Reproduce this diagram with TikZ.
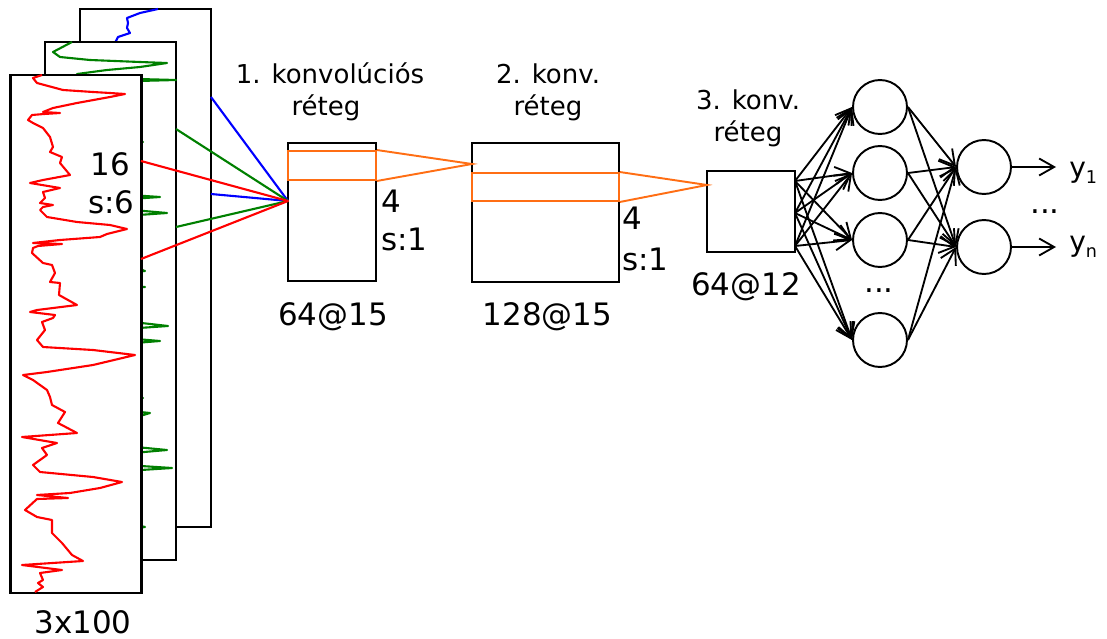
\documentclass[tikz,border=0pt]{standalone}
\usepackage{fontspec}
\setmainfont{DejaVu Sans}
\usetikzlibrary{arrows.meta}

\definecolor{convorange}{RGB}{255,110,20}
\definecolor{chgreen}{RGB}{0,128,0}

\begin{document}
\begin{tikzpicture}[x=0.02cm, y=-0.02cm,
  frame/.style={draw, line width=1.6pt, fill=white, minimum width=2.62cm, minimum height=10.36cm, inner sep=0},
  trace/.style={line width=1.2pt, line join=round},
  layer/.style={draw, line width=1.1pt, inner sep=0},
  window/.style={draw=convorange, line width=1.1pt, inner sep=0},
  neuron/.style={draw, circle, line width=1.1pt, minimum size=1.08cm, inner sep=0},
  arr/.style={-{Straight Barb[length=3mm, width=3.4mm]}, line width=1.05pt},
  big/.style={font=\fontsize{17.6}{21}\selectfont, inner sep=0},
  small/.style={font=\fontsize{14.8}{18}\selectfont, inner sep=0},
  outlbl/.style={font=\fontsize{16}{19}\selectfont, inner sep=0}]
\useasboundingbox (0,0) rectangle (1107,639);

% input channels, back to front
\node[frame] (chz) at (145.5,268) {};
\draw[trace, blue] plot coordinates {(158,9) (140,13) (127,18) (128,23) (127,28) (130,33) (118,37) (116,41) (112,46)};

\node[frame] (chy) at (110.5,301) {};
\draw[trace, chgreen] plot coordinates {(72,42) (53,52) (60,57) (90,60) (140,62) (167,63) (140,67) (107,70) (77,74)
  (100,78) (176,80) (100,82) (110,100) (120,140) (143,142) (120,145) (115,190) (100,193) (160,197) (100,201)
  (110,208) (167,213) (110,217) (115,260) (145,271) (115,274) (110,284) (145,287) (110,290) (115,320)
  (168,326) (110,330) (112,337) (160,341) (110,345) (115,395) (143,398) (115,402) (120,410) (150,413)
  (140,416) (120,420) (115,445) (167,450) (110,455) (110,464) (172,468) (110,472) (115,520) (145,527)
  (110,532) (100,558)};

\node[frame] (chx) at (76,334) {};
\draw[trace, red] plot coordinates {(42,75) (33,78) (37,83) (63,90) (93,92) (110,93) (125,94) (110,97) (77,103)
  (53,108) (43,112) (60,113) (44,114) (32,115) (28,120) (33,123) (43,128) (50,137) (53,147) (50,152)
  (62,157) (60,163) (70,175) (43,180) (30,183) (60,188) (43,192) (45,198) (40,203) (53,205) (43,207)
  (40,210) (47,217) (77,222) (110,225) (127,229) (107,234) (100,237) (60,240) (33,243) (62,244) (38,246)
  (33,248) (32,253) (43,263) (52,265) (55,273) (50,282) (60,283) (59,295) (77,305) (37,310) (30,312)
  (55,315) (53,318) (42,322) (45,330) (37,340) (43,347) (93,350) (135,355) (93,365) (47,372) (23,375)
  (33,380) (47,390) (50,397) (52,405) (65,412) (58,423) (77,433) (22,437) (57,443) (42,448) (47,455)
  (33,465) (40,472) (93,477) (122,482) (100,488) (70,493) (37,495) (68,498) (37,499) (25,510) (37,517)
  (52,520) (52,533) (62,543) (72,555) (83,561) (22,565) (62,570) (40,573) (43,580) (38,583) (43,587)
  (35,592)};

\node[big, anchor=base west] (kw) at (90,175) {16};
\node[big, anchor=base west] (ks) at (88,213) {s:6};
\node[big, anchor=base] (insz) at (83,633) {3x100};

% kernel ends on the channels
\coordinate (bz1) at (211,97);
\coordinate (bz2) at (211,194);
\coordinate (by1) at (176,129);
\coordinate (by2) at (176,227);
\coordinate (bx1) at (141,161);
\coordinate (bx2) at (141,259);
\coordinate (k1) at (288,201);

% first conv layer
\node[layer, minimum width=1.76cm, minimum height=2.76cm] (c1) at (332,212) {};
\node[window, minimum width=1.76cm, minimum height=0.58cm] (w1) at (332,165.5) {};
\node[small, anchor=base] (l1a) at (330,83) {1. konvolúciós};
\node[small, anchor=base] (l1b) at (326,115) {réteg};
\node[big, anchor=base west] (k1w) at (381,212) {4};
\node[big, anchor=base west] (k1s) at (381,250) {s:1};
\node[big, anchor=base] (n1) at (333,325) {64@15};

\draw[trace, blue] (bz1) -- (k1) -- (bz2);
\draw[trace, chgreen] (by1) -- (k1) -- (by2);
\draw[trace, red] (bx1) -- (k1) -- (bx2);

% second conv layer
\node[layer, minimum width=2.94cm, minimum height=2.78cm] (c2) at (545.5,212.5) {};
\node[window, minimum width=2.94cm, minimum height=0.56cm] (w2) at (545.5,187) {};
\node[small, anchor=base] (l2a) at (548,83) {2. konv.};
\node[small, anchor=base] (l2b) at (548,115) {réteg};
\node[big, anchor=base west] (k2w) at (622,229) {4};
\node[big, anchor=base west] (k2s) at (622,270) {s:1};
\node[big, anchor=base] (n2) at (547.5,325) {128@15};

\coordinate (t2) at (472,164);
\draw[convorange, line width=1.1pt] (w1.north east) -- (t2) -- (w1.south east);

% third conv layer
\node[layer, minimum width=1.76cm, minimum height=1.62cm] (c3) at (751,211.5) {};
\node[small, anchor=base] (l3a) at (748,110) {3. konv.};
\node[small, anchor=base] (l3b) at (748,141) {réteg};
\node[big, anchor=base] (n3) at (746,295) {64@12};

\coordinate (t3) at (707,185);
\draw[convorange, line width=1.1pt] (w2.north east) -- (t3) -- (w2.south east);

% dense part
\node[neuron] (h1) at (880,107) {};
\node[neuron] (h2) at (880,173) {};
\node[neuron] (h3) at (880,240) {};
\node[neuron] (h4) at (880,340) {};
\node[big] (hdots) at (879,291) {...};

\node[neuron] (q1) at (984,167) {};
\node[neuron] (q2) at (984,247) {};
\node[big] (qdots) at (1045,212) {...};

\coordinate (o1) at (795,181);
\coordinate (o2) at (795,213);
\coordinate (o3) at (795,246);

\draw[arr] (o1) -- (h1.west);
\draw[arr] (o1) -- (h2.west);
\draw[arr] (o1) -- (h3.west);
\draw[arr] (o1) -- (h4.west);
\draw[arr] (o2) -- (h1.west);
\draw[arr] (o2) -- (h2.west);
\draw[arr] (o2) -- (h3.west);
\draw[arr] (o2) -- (h4.west);
\draw[arr] (o3) -- (h1.west);
\draw[arr] (o3) -- (h2.west);
\draw[arr] (o3) -- (h3.west);
\draw[arr] (o3) -- (h4.west);

\draw[arr] (h1.east) -- (q1.west);
\draw[arr] (h1.east) -- (q2.west);
\draw[arr] (h2.east) -- (q1.west);
\draw[arr] (h2.east) -- (q2.west);
\draw[arr] (h3.east) -- (q1.west);
\draw[arr] (h3.east) -- (q2.west);
\draw[arr] (h4.east) -- (q1.west);
\draw[arr] (h4.east) -- (q2.west);

% outputs
\coordinate (e1) at (1056,167);
\coordinate (e2) at (1056,247);
\draw[arr] (q1.east) -- (e1);
\draw[arr] (q2.east) -- (e2);
\node[outlbl, anchor=base west] (y1) at (1069,177) {y\raisebox{-3.6pt}{\fontsize{10}{11}\selectfont 1}};
\node[outlbl, anchor=base west] (yn) at (1069,251) {y\raisebox{-3.6pt}{\fontsize{10}{11}\selectfont n}};
\end{tikzpicture}
\end{document}
